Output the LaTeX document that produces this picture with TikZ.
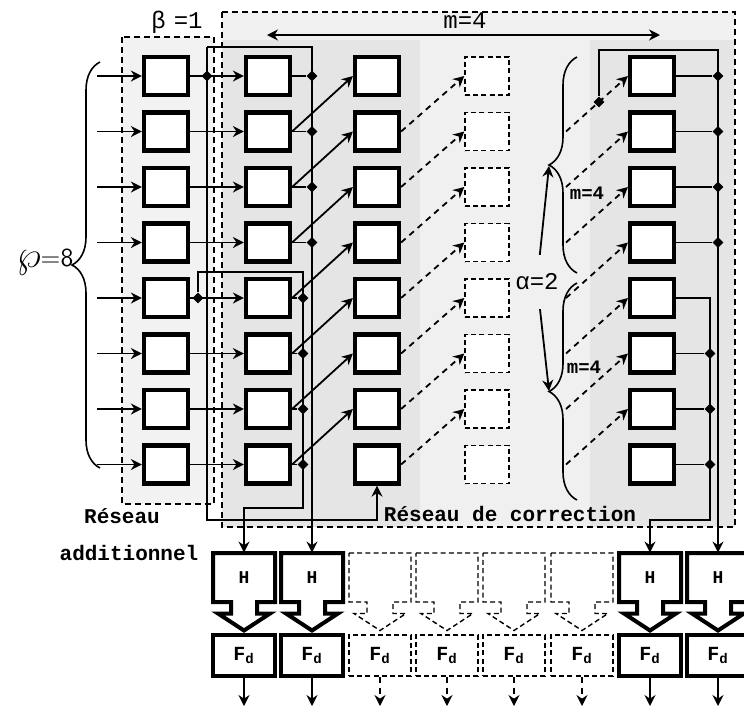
\documentclass[tikz,border=0pt]{standalone}
\usepackage{fontspec}
\newfontfamily\cour{Liberation Mono}
\usetikzlibrary{arrows.meta,shapes.geometric,decorations.pathreplacing}
\tikzset{
  pics/hcell/.style={code={
    \draw[#1] (-31,-24.5) -- (31,-24.5) -- (31,24.5) -- (13,24.5) -- (13,36) -- (26,36)
      -- (0,53) -- (-26,36) -- (-13,36) -- (-13,24.5) -- (-31,24.5) -- cycle;
  }},
  cell/.style={draw, fill=white, line width=2.1pt, minimum width=22pt, minimum height=19pt, inner sep=0pt},
  ghost/.style={draw, fill=white, line width=0.7pt, dash pattern=on 2.5pt off 1.6pt, minimum width=22pt, minimum height=19pt, inner sep=0pt},
  hbox/.style={minimum width=31pt, minimum height=24.5pt, inner sep=0pt, font=\cour\bfseries\fontsize{9}{10}\selectfont},
  fcell/.style={draw, fill=white, line width=2pt, minimum width=31pt, minimum height=20.5pt, inner sep=0pt, font=\cour\bfseries\fontsize{10}{12}\selectfont},
  fghost/.style={fcell, line width=0.7pt, dash pattern=on 2.5pt off 1.6pt},
  thickline/.style={line width=2pt, line join=miter, fill=white},
  ghostline/.style={line width=0.7pt, dash pattern=on 2.5pt off 1.6pt},
  dot/.style={diamond, fill, inner sep=0pt, minimum size=5.5pt},
  wire/.style={line width=0.9pt},
  arr/.style={-{Stealth[length=5.5pt, width=5.5pt]}, line width=0.9pt},
  darr/.style={arr, dash pattern=on 3pt off 2.5pt},
  netbox/.style={line width=0.9pt, dash pattern=on 3pt off 2pt},
  lab/.style={font=\cour\fontsize{12}{14}\selectfont},
  sublab/.style={font=\cour\bfseries\fontsize{9.5}{11}\selectfont},
  tag/.style={font=\cour\bfseries\fontsize{10.5}{12}\selectfont},
  curly/.style={decorate, decoration={brace, amplitude=14pt}, line width=0.8pt}
}
\begin{document}
\begin{tikzpicture}[x=0.5pt,y=-0.5pt]
\useasboundingbox (0,0) rectangle (744,708);

% ---------------- Network frames ----------------
\fill[black!5] (122,37) rectangle (214,504);
\fill[black!6] (222,12) rectangle (735,527);
\fill[black!10] (222,40) rectangle (420,527);
\fill[black!10] (590,40) rectangle (735,527);
\draw[netbox] (122,37) rectangle (214,504);
\draw[netbox] (222,12) rectangle (735,527);

% ---------------- Cell columns ----------------
\foreach \i in {1,...,8}{
  \pgfmathsetmacro\yy{76+55.5*(\i-1)}
  \node[cell] (a\i) at (166,\yy) {};
  \node[cell] (c\i) at (268,\yy) {};
  \node[cell] (d\i) at (377,\yy) {};
  \node[ghost] (g\i) at (487,\yy) {};
  \node[cell] (r\i) at (652,\yy) {};
  \coordinate (in\i) at (97,\yy);
}

% ---------------- Bus taps ----------------
\node[dot] (pa) at (a1 -| 207,0) {};
\node[dot] (pb) at (a5 -| 198,0) {};
\foreach \i in {1,...,4}{
  \node[dot] (ca\i) at (c\i -| 312,0) {};
  \node[dot] (ra\i) at (r\i -| 718,0) {};
}
\foreach \i in {5,...,8}
  \node[dot] (cb\i) at (c\i -| 303,0) {};
\foreach \i in {6,7,8}
  \node[dot] (rb\i) at (r\i -| 710,0) {};
\node[dot] (q) at (599,102) {};

% ---------------- Bottom stages ----------------
\foreach \k/\x in {1/244,2/312,7/650,8/718}{
  \node[hbox] (h\k) at (\x,577.5) {};
  \pic at (h\k) {hcell=thickline};
  \node[hbox] at (h\k) {H};
  \node[fcell] (f\k) at (\x,655.5) {F\textsubscript{d}};
  \coordinate (o\k) at (\x,706);
  \draw[arr] (f\k.south) -- (o\k);
}
\foreach \k/\x in {3/380,4/447,5/514,6/582}{
  \coordinate (h\k) at (\x,577.5);
  \pic at (h\k) {hcell=ghostline};
  \node[fghost] (f\k) at (\x,655.5) {F\textsubscript{d}};
  \coordinate (o\k) at (\x,706);
  \draw[darr] (f\k.south) -- (o\k);
}

% ---------------- Wiring ----------------
\foreach \i in {1,...,8}{
  \draw[arr] (in\i) -- (a\i.west);
  \draw[arr] (a\i.east) -- (c\i.west);
}
\foreach \i in {1,...,4}{
  \draw[wire] (c\i.east) -- (ca\i);
  \draw[wire] (r\i.east) -- (ra\i);
}
\foreach \i in {5,...,8}
  \draw[wire] (c\i.east) -- (cb\i);
\foreach \i in {6,7,8}
  \draw[wire] (r\i.east) -- (rb\i);

\foreach \i [count=\j from 2] in {1,...,7}{
  \coordinate (s\i) at (r\j -| 566,0);
  \draw[arr] (c\j.east) -- (d\i.west);
  \draw[darr] (d\j.east) -- (g\i.west);
  \draw[darr] (s\i) -- (r\i.west);
}

\coordinate (k1) at (207,47);
\coordinate (k2) at (207,520);
\coordinate (k3) at (303,272);
\coordinate (k4) at (303,508);
\coordinate (k5) at (718,50);
\coordinate (k6) at (710,520);
\draw[arr] (k1) -- (k2) -| (d8.south);
\draw[arr] (k1) -| (h2.north);
\draw[arr] (pb) |- (k3) -- (k4) -| (h1.north);
\draw[arr] (q) |- (k5) -- (h8.north);
\draw[arr] (r5.east) -| (k6) -| (h7.north);

% ---------------- Sizes ----------------
\coordinate (mL) at (267,35);
\coordinate (mR) at (660,35);
\draw[{Stealth[length=5.5pt, width=5.5pt]}-{Stealth[length=5.5pt, width=5.5pt]}, line width=0.9pt] (mL) -- (mR);
\node[lab] (mtop) at (465,21) {m=4};
\node[lab] (beta) at (177,22) {β\,\,=1};

\draw[curly] (100,468) -- (100,62);
\node[font=\sffamily\fontsize{13}{14}\selectfont, inner sep=1pt] (rho) at (45,262) {\raisebox{-0.1ex}{\scalebox{1.6}{$\wp$}}=8};

\draw[curly] (577,273) -- (577,57);
\draw[curly] (577,500) -- (577,283);
\coordinate (cusp1) at (549,166);
\coordinate (cusp2) at (549,391);
\node[lab] (alpha) at (537,282) {α=2};
\draw[arr, shorten <=6pt] (alpha) -- (cusp1);
\draw[arr, shorten <=6pt] (alpha) -- (cusp2);
\node[sublab] (m1) at (587,193) {m=4};
\node[sublab] (m2) at (584,367) {m=4};

% ---------------- Captions ----------------
\node[tag] (t1) at (122,516) {Réseau};
\node[tag] (t2) at (129,553) {additionnel};
\node[tag] (t3) at (510,514) {Réseau de correction};

\end{tikzpicture}
\end{document}
